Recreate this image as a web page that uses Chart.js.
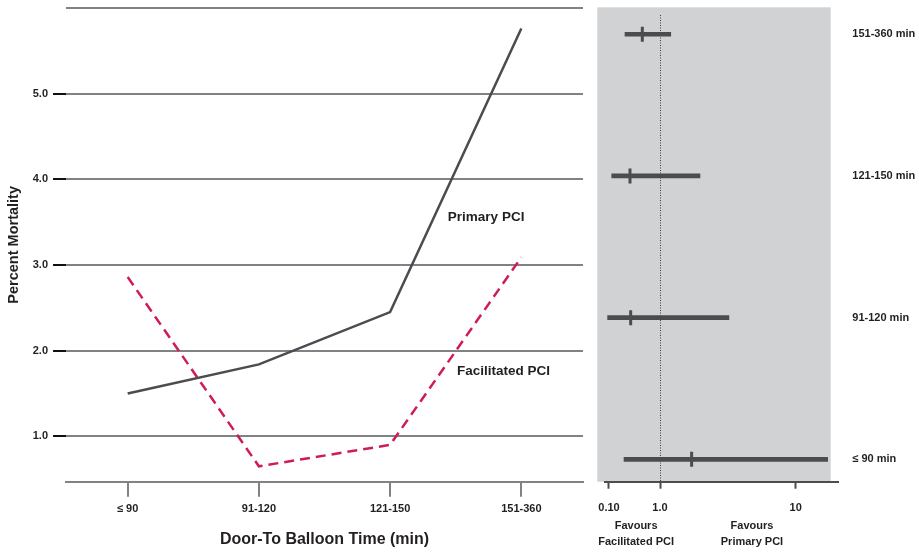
<!DOCTYPE html>
<html><head><meta charset="utf-8">
<script src="https://cdn.jsdelivr.net/npm/chart.js@4"></script>
<style>
html,body{margin:0;padding:0;background:#fff;}
#wrap{position:relative;width:919px;height:553px;overflow:hidden;}
#c1{position:absolute;left:0;top:0;}
#c2{position:absolute;left:590px;top:0;}
</style></head><body>
<div id="wrap"><canvas id="c1" width="590" height="553"></canvas><canvas id="c2" width="329" height="553"></canvas></div>
<script>
// ---- data: left panel (percent mortality by door-to-balloon time)
const categories = ['\u2264 90', '91-120', '121-150', '151-360'];
const primaryPCI = [1.50, 1.84, 2.45, 5.76];
const facilitatedPCI = [2.86, 0.65, 0.90, 3.09];
const mortalityTicks = [1, 2, 3, 4, 5, 6];

// ---- data: right panel (odds ratio, facilitated vs primary PCI)
const forestRows = ['\u2264 90 min', '91-120 min', '121-150 min', '151-360 min'];
const oddsRatio = [1.71, 0.266, 0.258, 0.45];
const ciLower = [0.197, 0.094, 0.113, 0.206];
const ciUpper = [17.2, 3.22, 1.97, 1.20];
const oddsTicks = [0.1, 1, 10];
const oddsTickLabels = ['0.10', '1.0', '10'];

const FONT = "'Liberation Sans Narrow','Arial Narrow','Liberation Sans',Arial,sans-serif";
Chart.defaults.font.family = FONT;
Chart.defaults.color = '#231f20';
const TXT = '#231f20';
const GRID = '#808285';
const DARK = '#4b4b50';
const PINK = '#cf1b5b';

const noEndPadding = s => { s.paddingTop = 0; s.paddingBottom = 0; };
const noSidePadding = s => { s.paddingLeft = 0; s.paddingRight = 0; };

// ---------- left chart
const seriesLabels = {
  id: 'seriesLabels',
  afterDatasetsDraw(chart) {
    const {ctx, scales: {x, y}} = chart;
    ctx.save();
    ctx.font = 'bold 13.5px ' + FONT;
    ctx.fillStyle = TXT;
    ctx.textAlign = 'left';
    ctx.textBaseline = 'middle';
    ctx.fillText('Primary PCI', x.getPixelForValue(2.44), y.getPixelForValue(3.56));
    ctx.fillText('Facilitated PCI', x.getPixelForValue(2.51), y.getPixelForValue(1.76));
    ctx.restore();
  }
};

new Chart(document.getElementById('c1'), {
  type: 'line',
  data: {
    datasets: [
      {label: 'Primary PCI', data: primaryPCI.map((v, i) => ({x: i, y: v})),
       borderColor: DARK, borderWidth: 2.5, pointRadius: 0, tension: 0, fill: false},
      {label: 'Facilitated PCI', data: facilitatedPCI.map((v, i) => ({x: i, y: v})),
       borderColor: PINK, borderWidth: 2.5, borderDash: [10, 6], pointRadius: 0, tension: 0, fill: false}
    ]
  },
  options: {
    responsive: false, animation: false, events: [],
    layout: {padding: {left: 0, right: 7, top: 8, bottom: 0}},
    plugins: {legend: {display: false}, tooltip: {enabled: false}},
    scales: {
      x: {
        type: 'linear', min: -0.47, max: 3.47,
        afterBuildTicks: s => { s.ticks = categories.map((c, i) => ({value: i})); },
        ticks: {callback: v => categories[v], font: {size: 11, weight: 'bold'}, padding: 6, maxRotation: 0, autoSkip: false, color: TXT},
        grid: {drawOnChartArea: false, color: GRID, lineWidth: 2, tickLength: 15, tickWidth: 2, tickColor: GRID},
        border: {display: true, color: GRID, width: 2},
        title: {display: true, text: 'Door-To Balloon Time (min)', font: {size: 16, weight: 'bold'}, color: TXT, padding: {top: 0, bottom: 4}},
        afterFit: s => { s.height = 71.3; noSidePadding(s); }
      },
      y: {
        type: 'linear', min: 0.47, max: 6,
        afterBuildTicks: s => { s.ticks = mortalityTicks.map(v => ({value: v})); },
        ticks: {callback: v => (v === 6 ? '' : v.toFixed(1)), font: {size: 11, weight: 'bold'}, padding: 5, color: TXT},
        grid: {color: GRID, lineWidth: 2, tickLength: 13, tickWidth: 2,
               tickColor: c => (c.tick && c.tick.value === 6 ? 'rgba(0,0,0,0)' : '#111')},
        border: {display: false},
        title: {display: true, text: 'Percent Mortality', font: {size: 14.5, weight: 'bold'}, color: TXT, padding: {top: 5, bottom: 0}},
        afterFit: s => { s.width = 66; noEndPadding(s); }
      }
    }
  },
  plugins: [seriesLabels]
});

// ---------- right chart: custom split-decade log scale
const UPPER_DECADE_RATIO = 2.66;
class SplitLogScale extends Chart.LinearScale {
  static id = 'splitlog';
  determineDataLimits() { this.min = this.options.min; this.max = this.options.max; }
  buildTicks() { return oddsTicks.map(v => ({value: v})); }
  _w(v) { const l = Math.log10(v); return l < 0 ? l : l * UPPER_DECADE_RATIO; }
  getPixelForValue(v) {
    if (v === null || v === undefined) return NaN;
    const a = this._w(this.min), b = this._w(this.max);
    return this.getPixelForDecimal((this._w(v) - a) / (b - a));
  }
  getValueForPixel(p) {
    const a = this._w(this.min), b = this._w(this.max);
    const w = a + this.getDecimalForPixel(p) * (b - a);
    return w < 0 ? Math.pow(10, w) : Math.pow(10, w / UPPER_DECADE_RATIO);
  }
}
Chart.register(SplitLogScale);

const forestDecor = {
  id: 'forestDecor',
  beforeDraw(chart) {
    const {ctx, chartArea: ca} = chart;
    ctx.save();
    ctx.fillStyle = '#d1d2d4';
    ctx.fillRect(ca.left - 7.7, ca.top - 7.7, (ca.right - 7.6) - (ca.left - 7.7), ca.bottom - (ca.top - 7.7));
    ctx.restore();
  },
  afterDraw(chart) {
    const {ctx, chartArea: ca, scales: {x}} = chart;
    ctx.save();
    ctx.font = 'bold 11px ' + FONT;
    ctx.fillStyle = TXT;
    ctx.textAlign = 'center';
    ctx.textBaseline = 'middle';
    const xa = x.getPixelForValue(0.34), xb = x.getPixelForValue(4.76);
    ctx.fillText('Favours', xa, ca.bottom + 44.5);
    ctx.fillText('Facilitated PCI', xa, ca.bottom + 60);
    ctx.fillText('Favours', xb, ca.bottom + 44.5);
    ctx.fillText('Primary PCI', xb, ca.bottom + 60);
    ctx.restore();
  }
};

new Chart(document.getElementById('c2'), {
  type: 'bar',
  data: {
    datasets: [
      {label: '95% CI', indexAxis: 'y', data: forestRows.map((r, i) => ({y: i, x: [ciLower[i], ciUpper[i]]})),
       backgroundColor: DARK, borderWidth: 0, barThickness: 4},
      {type: 'scatter', label: 'Odds ratio', indexAxis: 'y', data: oddsRatio.map((v, i) => ({x: v, y: i})),
       pointStyle: 'line', rotation: 90, radius: 7.5, borderWidth: 3, borderColor: DARK, backgroundColor: DARK}
    ]
  },
  options: {
    indexAxis: 'y',
    responsive: false, animation: false, events: [],
    layout: {padding: {left: 15, right: 0, top: 15, bottom: 0}},
    plugins: {legend: {display: false}, tooltip: {enabled: false}},
    scales: {
      x: {
        type: 'splitlog', position: 'bottom', min: 0.0835, max: 20.6, offset: false,
        ticks: {callback: (v, i) => oddsTickLabels[i], font: {size: 11, weight: 'bold'}, padding: 13, maxRotation: 0, autoSkip: false, color: TXT},
        grid: {display: true, drawOnChartArea: true, offset: false, lineWidth: 1,
               color: c => (c.tick && c.tick.value === 1 ? '#3a3a3a' : 'rgba(0,0,0,0)'),
               tickLength: 7, tickWidth: 2, tickColor: DARK},
        border: {display: true, color: DARK, width: 2, dash: [1, 1.5]},
        afterFit: s => { s.height = 71.3; noSidePadding(s); }
      },
      y: {
        type: 'linear', position: 'right', min: -0.158, max: 3.136, offset: false,
        afterBuildTicks: s => { s.ticks = forestRows.map((r, i) => ({value: i})); },
        ticks: {callback: v => forestRows[v], font: {size: 11, weight: 'bold'}, padding: 14, crossAlign: 'near', color: TXT, autoSkip: false},
        grid: {display: false, drawTicks: false, offset: false},
        border: {display: false},
        afterFit: s => { s.width = 80.7; noEndPadding(s); }
      }
    }
  },
  plugins: [forestDecor]
});
</script>
</body></html>
